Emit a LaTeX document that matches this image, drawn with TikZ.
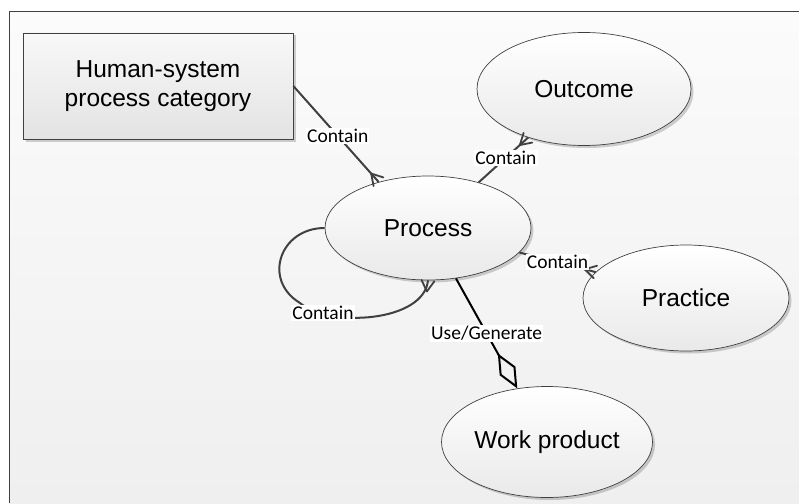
\documentclass[tikz,border=0pt]{standalone}
\usepackage{fontspec}
\setmainfont{Liberation Sans}
\newfontfamily\lblfont{Carlito}
\usetikzlibrary{shapes.geometric,shadows,arrows.meta,decorations.markings}
\definecolor{edgec}{HTML}{404040}
\definecolor{bgtop}{HTML}{FBFBFB}
\definecolor{bgbot}{HTML}{EFEFEF}
\definecolor{entbot}{HTML}{E9E9E9}
\definecolor{boxtop}{HTML}{F8F8F8}
\definecolor{boxbot}{HTML}{E3E3E3}
\begin{document}
\begin{tikzpicture}[x=1pt,y=-1pt,
  ent/.style={ellipse, draw=edgec, line width=0.7pt, top color=white, bottom color=entbot,
    inner sep=0pt, font=\fontsize{24.5}{29.5}\selectfont,
    drop shadow={shadow xshift=2.5pt,shadow yshift=-2.5pt,fill=black,opacity=0.18}},
  hsbox/.style={rectangle, draw=edgec, line width=0.7pt, top color=boxtop, bottom color=boxbot,
    inner sep=0pt, align=center, font=\fontsize{24.5}{29.5}\selectfont,
    drop shadow={shadow xshift=2.5pt,shadow yshift=-2.5pt,fill=black,opacity=0.18}},
  lbl/.style={fill=white, inner sep=1.2pt, text=black, font=\lblfont\fontsize{19.5}{21}\selectfont},
  conn/.style={draw=edgec, line width=2pt},
  crowfoot/.style={postaction={decorate, decoration={markings,
    mark=at position -0.2pt with {\draw[edgec, line width=1.8pt, line cap=round] (-11pt,0) -- (0,6.5pt) (-11pt,0) -- (0,-6.5pt);}}}}
]
\useasboundingbox (0,0) rectangle (799,503);
\fill[white] (0,0) rectangle (799,503);
\fill[top color=bgtop, bottom color=bgbot] (9,12) rectangle (799,503);
\draw[edgec, line width=1pt] (9,503) -- (9,12) -- (799,12);

\node[hsbox, minimum width=270pt, minimum height=106pt] (hs) at (158,86) {Human-system\\process category};
\node[ent, minimum width=214pt, minimum height=113pt] (out) at (584,89) {Outcome};
\node[ent, minimum width=206pt, minimum height=104pt] (proc) at (428,228) {Process};
\node[ent, minimum width=206pt, minimum height=106pt] (prac) at (686,298) {Practice};
\node[ent, minimum width=211pt, minimum height=111pt] (wp) at (547,442) {Work product};

\draw[conn, crowfoot] (hs.east) -- node[lbl, pos=0.52] (l1) {Contain} (proc.137);
\draw[conn, crowfoot] (proc.42.6) -- node[lbl, pos=0.55] (l2) {Contain} (out.221);
\draw[conn, crowfoot] (proc.-15) -- node[lbl, pos=0.5] (l3) {Contain} (prac.164.5);
\draw[conn, crowfoot] (proc.180) .. controls (280,228) and (262,280) .. (300,303)
  .. controls (330,328) and (424,322) .. (proc.270);
\node[lbl] (l4) at (323,313) {Contain};
\draw[black, line width=2pt, -{Diamond[open,length=40pt,width=18pt,line width=2pt]}]
  (proc.-61) -- node[lbl, pos=0.5] (l5) {Use/Generate} (wp.119);
\end{tikzpicture}
\end{document}
